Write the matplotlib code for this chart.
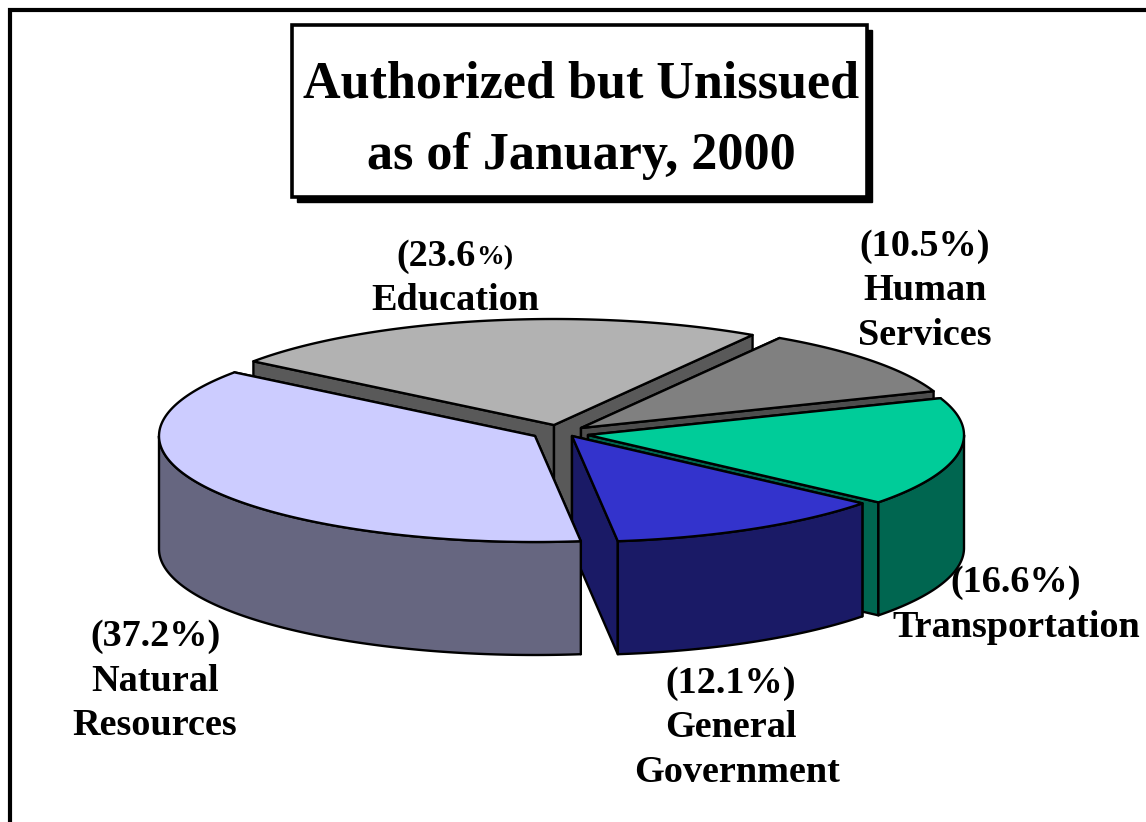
import numpy as np
import matplotlib
matplotlib.use("Agg")
import matplotlib.pyplot as plt
from matplotlib.patches import Rectangle

plt.rcParams['font.family'] = ['Liberation Serif', 'DejaVu Serif']

# ---- data (clockwise from the front) ----
categories = ["Natural Resources", "Education", "Human Services", "Transportation", "General Government"]
shares = [37.2, 23.6, 10.5, 16.6, 12.1]
top_colors = ["#CCCCFF", "#B2B2B2", "#808080", "#00CC99", "#3333CC"]
wall_colors = ["#666680", "#595959", "#4D4D4D", "#006650", "#1A1A66"]
# apex of each pulled-out slice (pixels)
apex_x = [535, 554, 581, 588, 572]
apex_y = [436, 425, 428, 435, 436]
paint_order = [1, 2, 3, 4, 0]

RX, RY, DEPTH = 376, 106, 113
START = 277.0  # degrees, slices run clockwise from here
LW = 1.7

fig = plt.figure(figsize=(11.46, 8.22), dpi=100)
ax = fig.add_axes([0, 0, 1, 1])
ax.set_xlim(0, 1146)
ax.set_ylim(822, 0)
ax.axis('off')

# outer frame (left and top sides reach the edge)
ax.plot([10, 10, 1146], [822, 10, 10], color='black', lw=3, solid_joinstyle='miter', zorder=1)

# title box
ax.add_patch(Rectangle((297, 30), 575, 172, fc='black', ec='black', zorder=2))
ax.add_patch(Rectangle((292, 25), 575, 172, fc='white', ec='black', lw=2.6, zorder=3))
ax.text(581, 85, "Authorized but Unissued", ha='center', va='center', fontsize=37.5,
        fontweight='bold', zorder=4)
ax.text(581, 156, "as of January, 2000", ha='center', va='center', fontsize=37.5,
        fontweight='bold', zorder=4)

# ---- pie ----
sweep = np.array(shares) / 100 * 360
angle0 = START - np.r_[0, np.cumsum(sweep)[:-1]]   # start angle of each slice
angle1 = angle0 - sweep                            # end angle


def rim(cx, cy, a0, a1, n=120):
    t = np.radians(np.linspace(a0, a1, n))
    return cx + RX * np.cos(t), cy - RY * np.sin(t)


def poly(xs, ys, fc, z):
    ax.fill(xs, ys, fc=fc, ec='black', lw=LW, joinstyle='round', zorder=z)


for z, i in enumerate(paint_order):
    z = 10 * (z + 1)
    cx, cy = apex_x[i], apex_y[i]
    a_hi, a_lo = angle0[i], angle1[i]
    x_hi, y_hi = rim(cx, cy, a_hi, a_hi, 1)
    x_lo, y_lo = rim(cx, cy, a_lo, a_lo, 1)
    # cut faces
    for ex, ey in ((x_hi[0], y_hi[0]), (x_lo[0], y_lo[0])):
        poly([cx, ex, ex, cx], [cy, ey, ey + DEPTH, cy + DEPTH], wall_colors[i], z)
    # outer wall: only where the rim faces the viewer
    for f0, f1 in ((-180, 0), (180, 360)):
        w0, w1 = max(a_lo, f0), min(a_hi, f1)
        if w1 > w0:
            xs, ys = rim(cx, cy, w0, w1)
            poly(np.r_[xs, xs[::-1]], np.r_[ys, ys[::-1] + DEPTH], wall_colors[i], z + 1)
    # top
    xs, ys = rim(cx, cy, a_lo, a_hi)
    poly(np.r_[cx, xs], np.r_[cy, ys], top_colors[i], z + 2)

# ---- labels ----
lab = dict(ha='center', va='center', fontsize=27.5, fontweight='bold', zorder=60)
ax.text(925, 246, "(10.5%)", **lab)
ax.text(925, 290, "Human", **lab)
ax.text(925, 335, "Services", **lab)
ax.text(1016, 582, "(16.6%)", **lab)
ax.text(1016, 627, "Transportation", **lab)
ax.text(731, 683, "(12.1%)", **lab)
ax.text(731, 727, "General", **lab)
ax.text(737, 772, "Government", **lab)
ax.text(155, 636, "(37.2%)", **lab)
ax.text(155, 681, "Natural", **lab)
ax.text(155, 725, "Resources", **lab)
ax.text(476, 256, "(23.6", ha='right', va='center', fontsize=27.5, fontweight='bold', zorder=60)
ax.text(476, 258, "%)", ha='left', va='center', fontsize=20, fontweight='bold', zorder=60)
ax.text(455, 300, "Education", **lab)

fig.savefig("out.png", dpi=100)
